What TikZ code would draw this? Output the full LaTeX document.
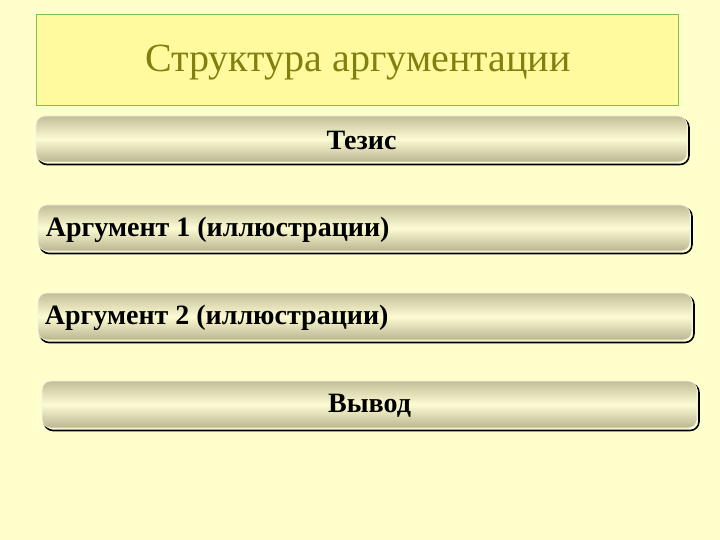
\documentclass[tikz,border=0pt]{standalone}
\usepackage{fontspec}
\setmainfont{Liberation Serif}
\usetikzlibrary{positioning}
\definecolor{bgc}{HTML}{FFFFCC}
\definecolor{titlefill}{HTML}{FFFA9E}
\definecolor{titledraw}{HTML}{7DC242}
\definecolor{titletext}{HTML}{808010}
\definecolor{khaki}{HTML}{C2BF98}
\definecolor{khakib}{HTML}{B8B590}
\definecolor{cream}{HTML}{FDFBD3}
\tikzset{
  barbox/.style={rounded corners=9pt, top color=khaki, bottom color=khakib, middle color=cream, draw=white!80!khaki, line width=0.6pt, inner sep=0pt},
  barshadow/.style={rounded corners=9pt, draw=black, line width=1.6pt, fill=none, inner sep=0pt},
  bartext/.style={font=\bfseries\fontsize{28}{31}\selectfont, text=black, inner sep=0pt},
}
\begin{document}
\begin{tikzpicture}[x=1pt,y=-1pt]
\fill[bgc] (0,0) rectangle (720,540);
\useasboundingbox (0,0) rectangle (720,540);
% title
\node[draw=titledraw, fill=titlefill, line width=0.7pt, minimum width=642pt, minimum height=91pt, inner sep=0pt] (titlebox) at (357,59.5) {};
\node[font=\fontsize{40}{44}\selectfont, text=titletext] (title) at (358,63) {Структура аргументации};
% bar 1
\node[barshadow, minimum width=651pt, minimum height=46pt] (s1) at (363.5,141.5) {};
\node[barbox, minimum width=651pt, minimum height=46pt] (b1) at (361.5,139) {};
\node[bartext] (t1) at ([yshift=-1.5pt]b1.center) {Тезис};
% bar 2
\node[barshadow, minimum width=652pt, minimum height=46pt] (s2) at (366,230.5) {};
\node[barbox, minimum width=652pt, minimum height=46pt] (b2) at (364,228) {};
\node[bartext, anchor=west] (t2) at ([xshift=8pt,yshift=-1.5pt]b2.west) {Аргумент 1 (иллюстрации)};
% bar 3
\node[barshadow, minimum width=654pt, minimum height=47pt] (s3) at (367,319) {};
\node[barbox, minimum width=654pt, minimum height=47pt] (b3) at (365,316.5) {};
\node[bartext, anchor=west] (t3) at ([xshift=7pt,yshift=-1pt]b3.west) {Аргумент 2 (иллюстрации)};
% bar 4
\node[barshadow, minimum width=655pt, minimum height=47pt] (s4) at (371.5,407) {};
\node[barbox, minimum width=655pt, minimum height=47pt] (b4) at (369.5,404.5) {};
\node[bartext] (t4) at ([yshift=-1.5pt]b4.center) {Вывод};
\end{tikzpicture}
\end{document}
